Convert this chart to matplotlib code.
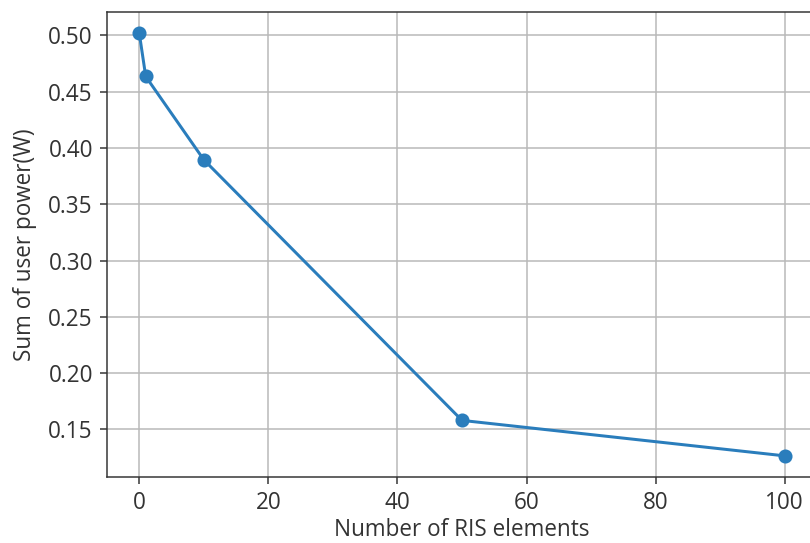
import matplotlib
matplotlib.use("Agg")
import matplotlib.pyplot as plt

# RIS elements vs total user power
ris_elements = [0, 1, 10, 50, 100]
user_power = [0.502, 0.4635, 0.3895, 0.158, 0.1265]

plt.rcParams['font.family'] = ['Open Sans', 'DejaVu Sans']
plt.rcParams['font.size'] = 12
plt.rcParams['text.color'] = '#333333'
plt.rcParams['axes.labelcolor'] = '#333333'
plt.rcParams['xtick.color'] = '#333333'
plt.rcParams['ytick.color'] = '#333333'
plt.rcParams['axes.edgecolor'] = '#333333'

fig = plt.figure(figsize=(6, 543 / 135), dpi=135)
ax = fig.add_axes([107 / 810, 1 - 477 / 543, 710 / 810, 465 / 543])
ax.plot(ris_elements, user_power, 'o-', color='#2a7dbc', linewidth=1.6, markersize=6.5)
ax.set_xlabel("Number of RIS elements", labelpad=1.5)
ax.set_ylabel("Sum of user power(W)", labelpad=6)
ax.set_yticks([0.15, 0.20, 0.25, 0.30, 0.35, 0.40, 0.45, 0.50])
ax.tick_params(pad=4)
ax.grid(True, color='#b8b8b8')
fig.savefig("out.png", dpi=135)
